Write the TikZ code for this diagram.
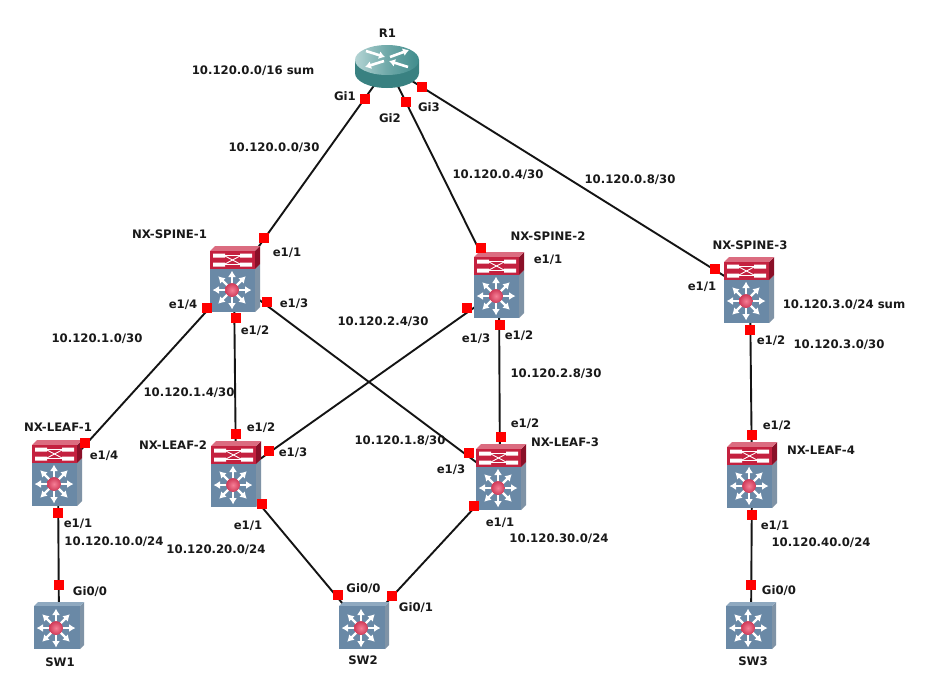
\documentclass[tikz,border=0pt]{standalone}
\usepackage{fontspec}
\setmainfont{DejaVu Sans}
\usetikzlibrary{arrows.meta}
\definecolor{swblue}{HTML}{6A89A6}
\definecolor{swblueL}{HTML}{8FA9C0}
\definecolor{swblueD}{HTML}{7F93A6}
\definecolor{nxred}{HTML}{C4213F}
\definecolor{nxredD}{HTML}{8A1028}
\definecolor{nxredL}{HTML}{DB6C80}
\definecolor{teal1}{HTML}{3F8C8C}
\definecolor{teal2}{HTML}{2F7070}
\definecolor{teal3}{HTML}{B4D4D4}
\definecolor{ballA}{HTML}{F57F96}
\definecolor{ballB}{HTML}{D03A58}
\tikzset{
  x=1pt,y=-1pt,
  lbl/.style={font=\bfseries\fontsize{11.7}{13}\selectfont,inner sep=0pt,text=black!90},
  port/.style={fill=red,draw=none,minimum size=10pt,inner sep=0pt},
  link/.style={line width=1.9pt,black!92},
  device/.style={draw=none,inner sep=0pt,minimum width=46pt,minimum height=60pt},
  arw/.style={draw=white,line width=2.3pt,-{Latex[length=6.5pt,width=8pt]}},
  rarw/.style={draw=white,line width=2.6pt,-{Latex[length=6pt,width=8pt]}},
}
% 8-point switch star centred at current origin
\newcommand{\starball}[1]{%
  \foreach \a in {0,45,...,315}{\draw[arw] (0,0) -- (\a:#1);}
  \shade[inner color=ballA,outer color=ballB] (0,0) circle (6.9);
}
% Nexus icon, arg: x,y of top-left of the front
\newcommand{\nexusicon}[2]{%
\begin{scope}[shift={(#1,#2)}]
  \fill[swblueD] (45,18) -- (50,13) -- (50,56) -- (45,61) -- cycle;
  \fill[nxredD] (45,0) -- (50,-5) -- (50,13) -- (45,18) -- cycle;
  \fill[nxredL] (0,0) -- (5,-5) -- (50,-5) -- (45,0) -- cycle;
  \fill[nxred] (0,0) rectangle (45,18);
  \fill[swblue] (0,18) rectangle (45,61);
  \fill[white] (3,2.5) rectangle (15,6.5) (30,2.5) rectangle (42,6.5) (3,11.5) rectangle (15,15.5) (30,11.5) rectangle (42,15.5);
  \draw[white,line width=.9pt] (14,4.5) -- (31,13.5) (14,13.5) -- (31,4.5) (14,4.5)--(31,4.5) (14,13.5)--(31,13.5);
  \begin{scope}[shift={(22,39)}]\starball{19.5}\end{scope}
\end{scope}}
% Layer-3 switch icon
\newcommand{\swicon}[2]{%
\begin{scope}[shift={(#1,#2)}]
  \fill[swblueD] (46,0) -- (50,-4) -- (50,39) -- (46,43) -- cycle;
  \fill[swblueL] (0,0) -- (4,-4) -- (50,-4) -- (46,0) -- cycle;
  \fill[swblue] (0,0) rectangle (46,43);
  \begin{scope}[shift={(22,22)}]\starball{19.5}\end{scope}
\end{scope}}
\begin{document}
\begin{tikzpicture}
\useasboundingbox (0,0) rectangle (929,694);
\fill[white] (0,0) rectangle (929,694);
% device anchors
\node[device] (R1) at (388,66) {};
\node[device] (S1) at (234,281) {};
\node[device] (S2) at (499,290) {};
\node[device] (S3) at (750,292) {};
\node[device] (L1) at (58,475) {};
\node[device] (L2) at (236,476) {};
\node[device] (L3) at (500,480) {};
\node[device] (L4) at (752,477) {};
\node[device] (SW1) at (59,627) {};
\node[device] (SW2) at (363,628) {};
\node[device] (SW3) at (751,627) {};
% links
\foreach \p/\q in {R1/S1,R1/S2,R1/S3,S1/L1,S1/L2,S1/L3,S2/L2,S2/L3,S3/L4,L1/SW1,L2/SW2,L3/SW2,L4/SW3}
  \draw[link] (\p.center) -- (\q.center);
% router
\begin{scope}[shift={(387,0)}]
  \fill[teal2!40!teal1] (-32,60) -- (-32,73) arc[x radius=32,y radius=15,start angle=180,end angle=0] -- (32,60) -- cycle;
  \shade[left color=teal3,right color=teal1,middle color=teal1!75!white] (0,60) ellipse (32 and 15);
  \draw[rarw] (-21,51) -- (-2,57);
  \draw[rarw] (21,67) -- (2,61);
  \draw[rarw] (-3,61) -- (-22,67);
  \draw[rarw] (3,57) -- (22,50);
\end{scope}
% icons
\nexusicon{210}{251}
\nexusicon{474}{257}
\nexusicon{724}{262}
\nexusicon{32}{445}
\nexusicon{211}{446}
\nexusicon{476}{449}
\nexusicon{727}{447}
\swicon{34}{606}
\swicon{339}{606}
\swicon{726}{606}
% ports
\foreach \i/\x/\y in {a/365/99,b/406/102,c/422/87,d/264/238,e/207/308,f/236/318,g/267/302,h/481/248,i/467/308,j/500/325,k/715/269,l/750/330,m/85/443,n/58/513,o/236/434,p/269/451,q/262/504,r/501/437,s/469/453,t/474/506,u/752/435,v/752/515,w/59/585,x/338/595,y/392/596,z/751/585}
  \node[port] (port\i) at (\x,\y) {};
% labels
\foreach \i/\x/\y/\t in {
1/387.5/33/{R1},2/253/71/{10.120.0.0/16 sum},3/345/96/{Gi1},4/390/118/{Gi2},5/429/107/{Gi3},
6/274/148/{10.120.0.0/30},7/498/175/{10.120.0.4/30},8/630/180/{10.120.0.8/30},
9/169.5/234/{NX-SPINE-1},10/287/253/{e1/1},11/183/305/{e1/4},12/294/304/{e1/3},13/255/331/{e1/2},
14/548/236/{NX-SPINE-2},15/548/260/{e1/1},16/476/339/{e1/3},17/519/336/{e1/2},
18/750/245/{NX-SPINE-3},19/702/287/{e1/1},20/844/305/{10.120.3.0/24 sum},21/771/341/{e1/2},22/839/345/{10.120.3.0/30},
23/97/339/{10.120.1.0/30},24/189/393/{10.120.1.4/30},25/383/322/{10.120.2.4/30},26/556/374/{10.120.2.8/30},27/400/441/{10.120.1.8/30},
28/58/427/{NX-LEAF-1},29/104/456/{e1/4},30/173/445/{NX-LEAF-2},31/261/428/{e1/2},32/293/453/{e1/3},33/525/424/{e1/2},34/565/442/{NX-LEAF-3},35/451/470/{e1/3},36/821/450/{NX-LEAF-4},37/777/426/{e1/2},
38/78/524/{e1/1},39/114/542/{10.120.10.0/24},40/90/592/{Gi0/0},41/60/662/{SW1},
42/248/526/{e1/1},43/216/550/{10.120.20.0/24},44/363.5/589/{Gi0/0},45/416/608/{Gi0/1},46/363/660/{SW2},
47/500/523/{e1/1},48/559/539/{10.120.30.0/24},49/775/526/{e1/1},50/821/543/{10.120.40.0/24},51/779/591/{Gi0/0},52/753/661/{SW3}}
  \node[lbl] (lab\i) at (\x,\y) {\t};
\end{tikzpicture}
\end{document}
